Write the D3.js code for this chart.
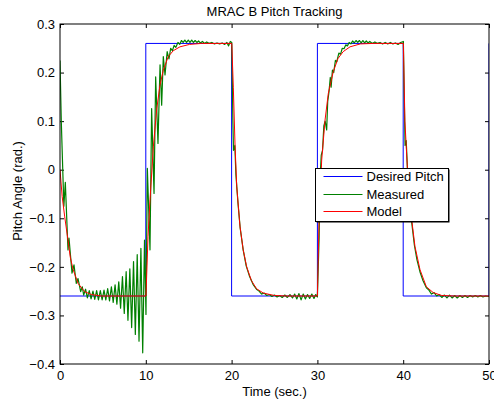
<!DOCTYPE html>
<html>
<head>
<meta charset="utf-8">
<script src="https://cdn.jsdelivr.net/npm/d3@7"></script>
<style>
  body { margin: 0; background: #fff; }
  svg { font-family: "Liberation Sans", Arial, Helvetica, sans-serif; }
</style>
</head>
<body>
<div class="chart"></div>
<script>
// Desired pitch (square wave)
const desired = [
  [0, -0.26], [10, -0.26], [10, 0.26], [20, 0.26], [20, -0.26], [30, -0.26],
  [30, 0.26], [40, 0.26], [40, -0.26], [50, -0.26], [50, 0.26]
];

// Reference model response
const model = [
  [0, 0], [0.25, -0.055], [0.55, -0.097], [0.93, -0.145], [1.2, -0.18], [1.52, -0.205],
  [2.1, -0.234], [2.87, -0.251], [3.65, -0.257], [4.8, -0.26], [10.02, -0.26],
  [10.26, -0.137], [10.49, -0.062], [10.88, 0.047], [11.26, 0.123], [11.65, 0.174],
  [12.04, 0.205], [12.62, 0.233], [13.2, 0.245], [13.98, 0.253], [15.1, 0.258],
  [16.5, 0.26], [20.02, 0.26],
  [20.2, 0.17], [20.4, 0.05], [20.6, -0.035], [20.98, -0.117], [21.35, -0.165],
  [21.76, -0.2], [22.3, -0.228], [22.9, -0.245], [23.7, -0.254], [25, -0.259],
  [26.5, -0.26], [30.0, -0.26],
  [30.19, -0.104], [30.5, 0.02], [30.89, 0.102], [31.27, 0.157], [31.85, 0.202],
  [32.4, 0.229], [33.0, 0.243], [33.8, 0.253], [35, 0.259], [36.5, 0.26], [40.02, 0.26],
  [40.2, 0.1], [40.6, -0.035], [41.0, -0.104], [41.37, -0.158], [41.96, -0.206],
  [42.7, -0.241], [43.5, -0.253], [44.5, -0.259], [46, -0.26], [50, -0.26]
];

// Measured pitch
const measured = [
  [0, 0.225], [0.15, 0.1], [0.45, -0.075], [0.62, -0.026], [0.93, -0.165], [1.05, -0.141],
  [1.4, -0.213], [1.63, -0.196], [1.9, -0.234], [2.1, -0.224], [2.41, -0.251], [2.6, -0.241],
  [2.76, -0.258], [2.98, -0.246], [3.19, -0.264], [3.41, -0.249], [3.62, -0.266], [3.84, -0.25],
  [4.05, -0.267], [4.27, -0.249], [4.48, -0.268], [4.7, -0.249], [4.91, -0.268], [5.13, -0.248],
  [5.34, -0.268], [5.56, -0.245], [5.77, -0.27], [5.99, -0.241], [6.2, -0.273], [6.42, -0.237],
  [6.63, -0.277], [6.85, -0.231], [7.06, -0.285], [7.28, -0.22], [7.49, -0.296], [7.71, -0.21],
  [7.92, -0.31], [8.14, -0.204], [8.35, -0.325], [8.57, -0.189], [8.78, -0.339], [9.0, -0.175],
  [9.21, -0.353], [9.43, -0.162], [9.64, -0.377], [9.85, -0.145], [10.02, -0.298],
  [10.18, 0.003], [10.49, -0.165], [10.68, 0.126], [10.96, -0.049], [11.15, 0.191],
  [11.42, 0.054], [11.66, 0.216], [11.85, 0.133], [12.04, 0.233], [12.24, 0.195],
  [12.49, 0.243], [12.7, 0.228], [12.9, 0.25], [13.1, 0.245], [13.3, 0.256], [13.5, 0.252],
  [13.75, 0.262], [13.95, 0.258], [14.15, 0.266], [14.35, 0.262], [14.55, 0.267],
  [14.75, 0.262], [14.95, 0.267], [15.15, 0.262], [15.35, 0.267], [15.55, 0.262],
  [15.75, 0.266], [15.95, 0.262], [16.15, 0.265], [16.35, 0.261], [16.6, 0.264],
  [16.85, 0.26], [17.1, 0.263], [17.4, 0.26], [17.7, 0.262], [18, 0.259], [18.3, 0.261],
  [18.6, 0.259], [18.9, 0.261], [19.2, 0.258], [19.45, 0.262], [19.65, 0.255],
  [19.85, 0.264], [20.02, 0.262],
  [20.15, 0.1], [20.22, 0.04], [20.38, 0.05], [20.5, -0.01], [20.75, -0.07], [21.0, -0.12],
  [21.35, -0.165], [21.7, -0.198], [22.1, -0.22], [22.5, -0.236], [22.9, -0.246],
  [23.2, -0.25], [23.5, -0.256], [23.8, -0.254], [24.1, -0.259], [24.4, -0.257],
  [24.7, -0.261], [25.0, -0.258], [25.3, -0.262], [25.6, -0.259], [25.9, -0.263],
  [26.2, -0.258], [26.5, -0.263], [26.8, -0.257], [27.1, -0.264], [27.35, -0.256],
  [27.6, -0.266], [27.85, -0.255], [28.1, -0.268], [28.35, -0.256], [28.6, -0.266],
  [28.85, -0.257], [29.1, -0.265], [29.35, -0.256], [29.6, -0.265], [29.8, -0.257],
  [30.0, -0.262],
  [30.1, -0.2], [30.2, -0.14], [30.3, -0.02], [30.45, 0.03], [30.6, 0.04], [30.75, 0.09],
  [30.9, 0.1], [31.08, 0.082], [31.2, 0.14], [31.35, 0.16], [31.5, 0.19], [31.6, 0.17],
  [31.75, 0.205], [31.9, 0.2], [32.1, 0.225], [32.25, 0.222], [32.5, 0.24], [32.7, 0.238],
  [32.9, 0.25], [33.1, 0.249], [33.3, 0.257], [33.5, 0.255], [33.7, 0.262], [33.9, 0.259],
  [34.1, 0.265], [34.3, 0.261], [34.5, 0.266], [34.7, 0.262], [34.9, 0.266], [35.1, 0.261],
  [35.3, 0.266], [35.5, 0.261], [35.7, 0.265], [35.9, 0.261], [36.1, 0.264], [36.4, 0.26],
  [36.7, 0.263], [37, 0.26], [37.3, 0.262], [37.6, 0.259], [37.9, 0.262], [38.2, 0.259],
  [38.5, 0.262], [38.8, 0.259], [39.1, 0.261], [39.4, 0.258], [39.7, 0.262], [40.02, 0.264],
  [40.12, 0.15], [40.22, 0.05], [40.35, 0.06], [40.5, 0.0], [40.7, -0.06], [41.0, -0.11],
  [41.3, -0.155], [41.6, -0.185], [41.95, -0.21], [42.3, -0.228], [42.7, -0.243],
  [43.0, -0.248], [43.3, -0.256], [43.6, -0.253], [43.9, -0.26], [44.2, -0.257],
  [44.5, -0.263], [44.8, -0.258], [45.1, -0.264], [45.4, -0.258], [45.7, -0.264],
  [46.0, -0.259], [46.3, -0.264], [46.6, -0.259], [46.9, -0.263], [47.2, -0.259],
  [47.5, -0.263], [47.8, -0.259], [48.1, -0.262], [48.4, -0.259], [48.7, -0.262],
  [49.0, -0.259], [49.3, -0.262], [49.6, -0.26], [50, -0.261]
];

const xTicks = [0, 10, 20, 30, 40, 50];
const yTicks = [-0.4, -0.3, -0.2, -0.1, 0, 0.1, 0.2, 0.3];

const seriesNames = ["Desired Pitch", "Measured", "Model"];
const seriesColors = ["#0000ff", "#008000", "#ff0000"];

const width = 494, height = 404;
const margin = { top: 24, right: 5, bottom: 40, left: 60 };
const fontSize = "13px";

const svg = d3.select(".chart").append("svg")
  .attr("width", width)
  .attr("height", height);

const x = d3.scaleLinear().domain([0, 50]).range([margin.left, width - margin.right]);
const y = d3.scaleLinear().domain([-0.4, 0.3]).range([height - margin.bottom, margin.top]);

const fmt = d => d === 0 ? "0" : d3.format(".1f")(d).replace("-", "\u2212");

// Axes (ticks pointing inward, like MATLAB)
const axBottom = svg.append("g")
  .attr("transform", `translate(0,${y(-0.4)})`)
  .call(d3.axisBottom(x).tickValues(xTicks).tickSizeInner(-4).tickSizeOuter(0).tickPadding(7).tickFormat(d3.format("d")));
const axTop = svg.append("g")
  .attr("transform", `translate(0,${y(0.3)})`)
  .call(d3.axisTop(x).tickValues(xTicks).tickSizeInner(-4).tickSizeOuter(0).tickFormat(""));
const axLeft = svg.append("g")
  .attr("transform", `translate(${x(0)},0)`)
  .call(d3.axisLeft(y).tickValues(yTicks).tickSizeInner(-4).tickSizeOuter(0).tickPadding(5).tickFormat(fmt));
const axRight = svg.append("g")
  .attr("transform", `translate(${x(50)},0)`)
  .call(d3.axisRight(y).tickValues(yTicks).tickSizeInner(-4).tickSizeOuter(0).tickFormat(""));

[axBottom, axTop, axLeft, axRight].forEach(g => {
  g.select(".domain").remove();
  g.selectAll("line").attr("stroke", "#000");
  g.selectAll("text").attr("fill", "#000").style("font-size", fontSize);
});

// Lines
const line = d3.line().x(d => x(d[0])).y(d => y(d[1]));
svg.append("clipPath").attr("id", "plotClip")
  .append("rect")
  .attr("x", x(0)).attr("y", y(0.3))
  .attr("width", x(50) - x(0)).attr("height", y(-0.4) - y(0.3));

const plot = svg.append("g").attr("clip-path", "url(#plotClip)");
[desired, measured, model].forEach((s, i) => {
  plot.append("path")
    .datum(s)
    .attr("d", line)
    .attr("fill", "none")
    .attr("stroke", seriesColors[i])
    .attr("stroke-width", i === 1 ? 1.2 : 1)
    .attr("stroke-linejoin", "round");
});

// Frame
svg.append("rect")
  .attr("x", x(0)).attr("y", y(0.3))
  .attr("width", x(50) - x(0)).attr("height", y(-0.4) - y(0.3))
  .attr("fill", "none")
  .attr("stroke", "#000")
  .attr("stroke-width", 1);

// Title and labels
svg.append("text")
  .attr("x", (x(0) + x(50)) / 2)
  .attr("y", 16)
  .attr("text-anchor", "middle")
  .style("font-size", fontSize)
  .text("MRAC B Pitch Tracking");

svg.append("text")
  .attr("x", (x(0) + x(50)) / 2)
  .attr("y", 396)
  .attr("text-anchor", "middle")
  .style("font-size", fontSize)
  .text("Time (sec.)");

svg.append("text")
  .attr("transform", `translate(22,${(y(0.3) + y(-0.4)) / 2 - 3}) rotate(-90)`)
  .attr("text-anchor", "middle")
  .style("font-size", fontSize)
  .text("Pitch Angle (rad.)");

// Legend
const legend = svg.append("g").attr("transform", "translate(315.5,168.5)");
legend.append("rect")
  .attr("x", 1).attr("y", 1)
  .attr("width", 133).attr("height", 53)
  .attr("fill", "#000");
legend.append("rect")
  .attr("width", 133).attr("height", 53)
  .attr("fill", "#fff")
  .attr("stroke", "#000")
  .attr("stroke-width", 1);
seriesNames.forEach((name, i) => {
  const ly = Math.round(8 + i * 17.5);
  legend.append("line")
    .attr("x1", 8).attr("x2", 47)
    .attr("y1", ly).attr("y2", ly)
    .attr("stroke", seriesColors[i])
    .attr("stroke-width", 1);
  legend.append("text")
    .attr("x", 51).attr("y", ly)
    .attr("dy", "0.35em")
    .style("font-size", fontSize)
    .text(name);
});
</script>
</body>
</html>
